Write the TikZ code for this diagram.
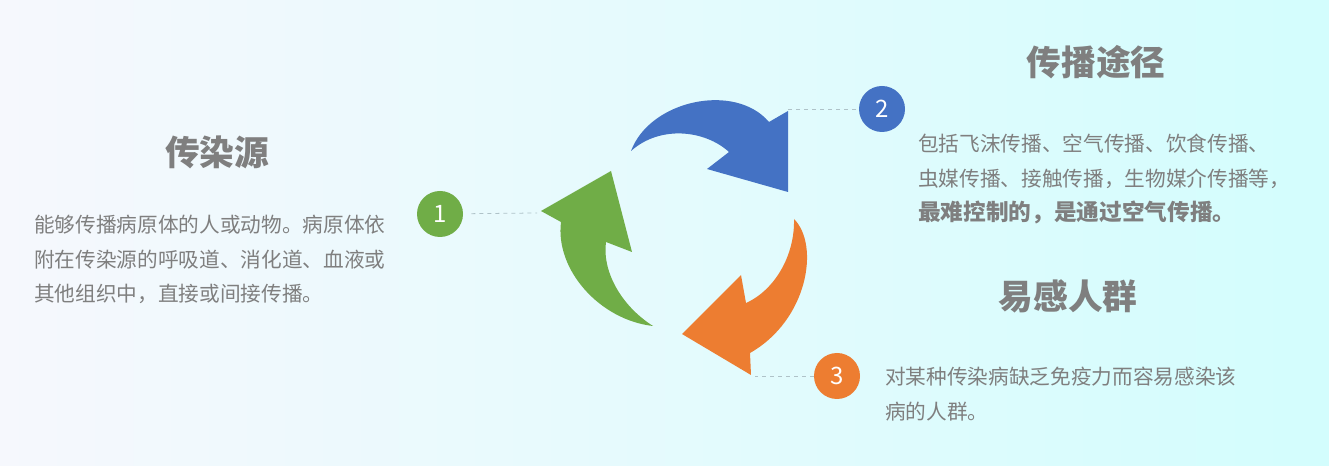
\documentclass[tikz,border=0pt]{standalone}
\usepackage{fontspec}
\setmainfont{Noto Sans CJK SC}
\usepackage{tikz}
\usetikzlibrary{shadings}

\definecolor{bgleft}{HTML}{F6F8FD}
\definecolor{bgright}{HTML}{D3FDFD}
\definecolor{txtgray}{HTML}{7F7F7F}
\definecolor{leadgray}{HTML}{AFC2C8}
\definecolor{agreen}{HTML}{70AD47}
\definecolor{ablue}{HTML}{4472C4}
\definecolor{aorange}{HTML}{ED7D31}

\tikzset{
	numcircle/.style={circle,fill=#1,text=white,minimum size=34.5pt,inner sep=0pt,font=\fontsize{18}{18}\selectfont},
	titletext/.style={text=txtgray,font=\fontsize{26}{26}\selectfont\bfseries,inner sep=0pt},
	bodytext/.style={text=txtgray,font=\fontsize{15.5}{25.9}\selectfont,align=left,anchor=north west,inner sep=0pt},
	leader/.style={draw=leadgray,dashed,line width=0.6pt}
}

\begin{document}
\begin{tikzpicture}[x=0.75pt,y=-0.75pt]

	\shade[left color=bgleft,right color=bgright] (0,0) rectangle (1329,466);
	\useasboundingbox (0,0) rectangle (1329,466);

	% the three arrows
	\fill[color=agreen] (653,326) .. controls (600,320) and (555,270) .. (561,222) -- (541,211) -- (611,171) -- (632,252) -- (606,242) .. controls (602,270) and (620,305) .. (653,326) -- cycle;
	\fill[color=ablue] (631,151) .. controls (650,100) and (735,82) .. (769,122) -- (788,111) -- (788,192) -- (707,169) -- (729,152) .. controls (705,130) and (660,125) .. (631,151) -- cycle;
	\fill[color=aorange] (794,219) .. controls (820,245) and (808,320) .. (750,353) -- (751,375) -- (682,334) -- (741,275) -- (746,303) .. controls (775,290) and (795,255) .. (794,219) -- cycle;

	\node[numcircle=agreen] (c1) at (440,214) {1};
	\node[numcircle=ablue] (c2) at (882,109) {2};
	\node[numcircle=aorange] (c3) at (837,376) {3};

	\coordinate (g1) at (537,213);
	\coordinate (g2) at (788,109);
	\coordinate (g3) at (755,376);
	\draw[leader,shorten <=6pt] (c1) -- (g1);
	\draw[leader,shorten <=2pt] (c2) -- (g2);
	\draw[leader] (c3) -- (g3);

	\node[titletext] (t1) at (217,152) {传染源};
	\node[titletext] (t2) at (1096,62) {传播途径};
	\node[titletext] (t3) at (1068,296) {易感人群};

	\node[bodytext] (b1) at (34,215) {能够传播病原体的人或动物。病原体依\\附在传染源的呼吸道、消化道、血液或\\其他组织中，直接或间接传播。};
	\node[bodytext] (b2) at (918,134) {包括飞沫传播、空气传播、饮食传播、\\虫媒传播、接触传播，生物媒介传播等，\\{\fontsize{17}{25.9}\selectfont\bfseries 最难控制的，是通过空气传播。}};
	\node[bodytext] (b3) at (885,367) {对某种传染病缺乏免疫力而容易感染该\\病的人群。};

\end{tikzpicture}
\end{document}
